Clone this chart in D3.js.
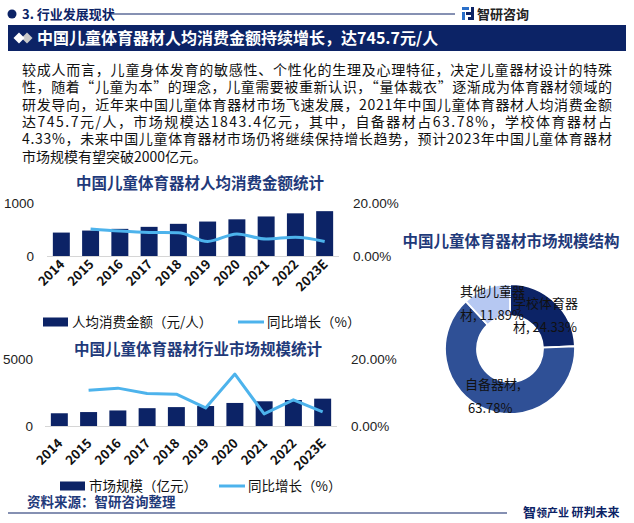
<!DOCTYPE html>
<html><head><meta charset="utf-8">
<script src="https://cdn.jsdelivr.net/npm/d3@7"></script>
<style>
html,body{margin:0;padding:0;background:#fff;}
svg{display:block;font-family:"Noto Sans CJK SC","Noto Sans",sans-serif;}
</style></head>
<body>
<svg id="c" width="634" height="523"></svg>
<script>
// ---------- data ----------
const years = ["2014","2015","2016","2017","2018","2019","2020","2021","2022","2023E"];
const perCapita = [442, 480, 512, 550, 607, 650, 692, 745.7, 805, 846];          // 元/人
const perCapitaGrowth = [null, 10.2, 9.4, 8.9, 8.8, 5.5, 8.3, 6.4, 7.1, 5.5];      // %
const marketSize = [950, 1040, 1160, 1330, 1410, 1490, 1720, 1843.4, 1940, 2040];  // 亿元
const marketGrowth = [null, 10.7, 11.3, 9.7, 9.5, 5.4, 15.5, 3.6, 7.8, 4.2];       // %
const structLabels = ["学校体育器材", "自备器材", "其他儿童器材"];
const structValues = [24.33, 63.78, 11.89];
const leftTicks1 = [0, 1000];
const leftTicks2 = [0, 5000];
const rightTicks = [0, 20];

const paragraph = [
 "较成人而言，儿童身体发育的敏感性、个性化的生理及心理特征，决定儿童器材设计的特殊",
 "性，随着“儿童为本”的理念，儿童需要被重新认识，“量体裁衣”逐渐成为体育器材领域的",
 "研发导向，近年来中国儿童体育器材市场飞速发展，2021年中国儿童体育器材人均消费金额",
 "达745.7元/人，市场规模达1843.4亿元，其中，自备器材占63.78%，学校体育器材占",
 "4.33%，未来中国儿童体育器材市场仍将继续保持增长趋势，预计2023年中国儿童体育器材",
 "市场规模有望突破2000亿元。"
];

const NAVY = "#0c2366", LINE = "#4db3ec";
const svg = d3.select("#c");

// ---------- header ----------
svg.append("circle").attr("cx",12).attr("cy",14).attr("r",4.5).attr("fill",NAVY);
svg.append("text").attr("x",22).attr("y",19).attr("font-size",13).attr("font-weight",700)
  .attr("fill",NAVY).text("3. 行业发展现状");
svg.append("line").attr("x1",109).attr("x2",455).attr("y1",14).attr("y2",14)
  .attr("stroke",NAVY).attr("stroke-width",1);
// logo
const lg = svg.append("g").attr("transform","translate(462,7)");
lg.append("rect").attr("x",0).attr("y",0).attr("width",7).attr("height",3).attr("fill","#2a6fc9");
lg.append("rect").attr("x",0).attr("y",5).attr("width",3).attr("height",8).attr("fill","#2a6fc9");
lg.append("rect").attr("x",4).attr("y",5).attr("width",5).attr("height",3).attr("fill",NAVY);
lg.append("rect").attr("x",6).attr("y",10).attr("width",4).attr("height",3).attr("fill",NAVY);
lg.append("rect").attr("x",9).attr("y",0).attr("width",3).attr("height",13).attr("fill",NAVY);
svg.append("text").attr("x",477).attr("y",19).attr("font-size",13).attr("font-weight",700)
  .attr("fill","#222").text("智研咨询");

// ---------- banner ----------
svg.append("rect").attr("x",8).attr("y",25).attr("width",618).attr("height",26).attr("fill",NAVY);
const dia = (cx,cy,s,f)=>svg.append("path")
  .attr("d",`M${cx-s},${cy}L${cx},${cy-s}L${cx+s},${cy}L${cx},${cy+s}Z`).attr("fill",f);
dia(27,38,5.5,"#c9c9c9");
dia(19,38,5.5,"#ffffff");
svg.append("text").attr("x",37).attr("y",44).attr("font-size",16).attr("font-weight",700)
  .attr("fill","#fff").text("中国儿童体育器材人均消费金额持续增长，达745.7元/人");

// ---------- paragraph ----------
paragraph.forEach((t,i)=>{
  const tx = svg.append("text").attr("x",22).attr("y",75+i*17.3).attr("font-size",14)
    .attr("fill","#111").text(t);
  if(i<paragraph.length-1) tx.attr("textLength",590).attr("lengthAdjust","spacing");
});

// ---------- generic combo chart ----------
function combo(opt){
  const g = svg.append("g");
  const x = d3.scaleBand().domain(years).range([opt.x0,opt.x1]).paddingInner(0.42).paddingOuter(0.2);
  const y = d3.scaleLinear().domain([0,opt.ymax]).range([opt.base,opt.top]);
  const y2 = d3.scaleLinear().domain([0,20]).range([opt.base,opt.top]);
  g.append("text").attr("x",opt.titleX).attr("y",opt.titleY).attr("text-anchor","middle")
    .attr("font-size",15.5).attr("font-weight",700).attr("fill","#1f3a7a").text(opt.title);
  g.append("line").attr("x1",opt.x0).attr("x2",opt.x1).attr("y1",opt.base+0.5).attr("y2",opt.base+0.5)
    .attr("stroke","#d6d6d6").attr("stroke-width",1.2);
  g.selectAll("rect.bar").data(opt.bars).join("rect").attr("class","bar")
    .attr("x",(d,i)=>x(years[i])).attr("width",x.bandwidth())
    .attr("y",d=>y(d)).attr("height",d=>opt.base-y(d)).attr("fill",NAVY);
  const pts = opt.growth.map((d,i)=>[years[i],d]).filter(p=>p[1]!=null);
  const lineGen = d3.line().x(p=>x(p[0])+x.bandwidth()/2).y(p=>y2(p[1])).curve(opt.curve);
  g.append("path").datum(pts).attr("d",lineGen).attr("fill","none")
    .attr("stroke",LINE).attr("stroke-width",3).attr("stroke-linejoin","round");
  const la = g.append("g").attr("transform",`translate(${opt.x0},0)`)
    .call(d3.axisLeft(y).tickValues(opt.leftTicks).tickSize(0).tickPadding(opt.lpad).tickFormat(d3.format("d")));
  la.select(".domain").remove();
  la.selectAll("text").attr("font-size",13.5).attr("fill","#222").attr("font-family",null);
  const ra = g.append("g").attr("transform",`translate(${opt.x1},0)`)
    .call(d3.axisRight(y2).tickValues(rightTicks).tickSize(0).tickPadding(14).tickFormat(d=>d3.format(".2f")(d)+"%"));
  ra.select(".domain").remove();
  ra.selectAll("text").attr("font-size",13.5).attr("fill","#222").attr("font-family",null);
  g.selectAll("text.xl").data(years).join("text").attr("class","xl")
    .attr("transform",d=>`translate(${x(d)+x.bandwidth()/2+4},${opt.base+opt.xlGap}) rotate(-45)`)
    .attr("text-anchor","end").attr("font-size",13).attr("font-weight",700).attr("fill","#111").text(d=>d);
  const L = opt.legend;
  g.append("rect").attr("x",L.rx).attr("y",L.y-4.5).attr("width",25).attr("height",9).attr("fill",NAVY);
  g.append("text").attr("x",L.rx+29).attr("y",L.y+5).attr("font-size",13.5).attr("fill","#111").text(opt.barName);
  g.append("line").attr("x1",L.lx).attr("x2",L.lx+26).attr("y1",L.y).attr("y2",L.y)
    .attr("stroke",LINE).attr("stroke-width",3);
  g.append("text").attr("x",L.lx+29).attr("y",L.y+5).attr("font-size",13.5).attr("fill","#111").text("同比增长（%）");
}

combo({title:"中国儿童体育器材人均消费金额统计", titleX:200, titleY:189,
  x0:47, x1:339, base:256, top:203, ymax:1000, leftTicks:leftTicks1, lpad:13,
  bars:perCapita, growth:perCapitaGrowth, curve:d3.curveMonotoneX, xlGap:9,
  barName:"人均消费金额（元/人）", legend:{rx:43, lx:238, y:322}});

combo({title:"中国儿童体育器材行业市场规模统计", titleX:198, titleY:355,
  x0:45, x1:337, base:426, top:359, ymax:5000, leftTicks:leftTicks2, lpad:12,
  bars:marketSize, growth:marketGrowth, curve:d3.curveLinear, xlGap:18,
  barName:"市场规模（亿元）", legend:{rx:60, lx:219, y:486}});

// ---------- donut ----------
svg.append("text").attr("x",511).attr("y",247).attr("text-anchor","middle")
  .attr("font-size",15.5).attr("font-weight",700).attr("fill","#1f3a7a").text("中国儿童体育器材市场规模结构");
const pie = d3.pie().sort(null).value(d=>d)(structValues);
const arc = d3.arc().innerRadius(33).outerRadius(65);
const pieColors = ["#0c2366","#2f5096","#b6c8f2"];
const dg = svg.append("g").attr("transform","translate(510,349)");
dg.selectAll("path").data(pie).join("path").attr("d",arc)
  .attr("fill",(d,i)=>pieColors[i]).attr("stroke","#fff").attr("stroke-width",1.8);
const fmt = v=>d3.format(".2f")(v)+"%";
const lab = (x,y,t)=>svg.append("text").attr("x",x).attr("y",y).attr("font-size",13).attr("fill","#111").text(t);
lab(460,296,structLabels[2].slice(0,5));
lab(460,320,structLabels[2].slice(5)+", "+fmt(structValues[2]));
lab(513,308,structLabels[0].slice(0,5));
lab(513,332,structLabels[0].slice(5)+", "+fmt(structValues[0]));
lab(465,389,structLabels[1]+",");
lab(468,413,fmt(structValues[1]));

// ---------- footer ----------
svg.append("text").attr("x",27).attr("y",507).attr("font-size",13.5).attr("font-weight",700)
  .attr("fill","#1f3a7a").text("资料来源：智研咨询整理");
svg.append("line").attr("x1",8).attr("x2",507).attr("y1",513).attr("y2",513).attr("stroke",NAVY).attr("stroke-width",1.2);
const ft = svg.append("text").attr("x",523).attr("y",517).attr("font-weight",700).attr("fill",NAVY);
ft.append("tspan").attr("font-size",13).text("智");
ft.append("tspan").attr("font-size",11).text("领产业 ");
ft.append("tspan").attr("font-size",12).text("研判未来");
</script>
</body></html>
